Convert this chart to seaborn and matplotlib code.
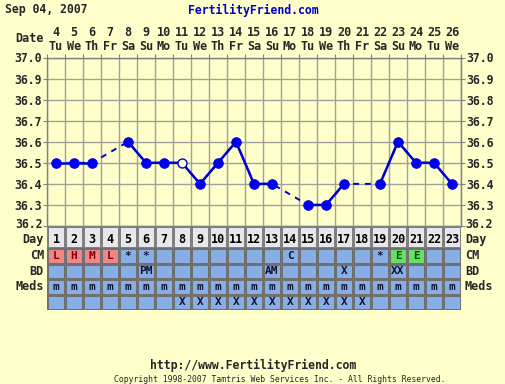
import numpy as np
import pandas as pd
import matplotlib
matplotlib.use('Agg')
import matplotlib.pyplot as plt
from matplotlib.colors import ListedColormap
from matplotlib.transforms import blended_transform_factory
import seaborn as sns

# data
days = list(range(1, 24))
dates = list(range(4, 27))
weekdays = ['Tu', 'We', 'Th', 'Fr', 'Sa', 'Su', 'Mo'] * 3 + ['Tu', 'We']
temps = [36.5, 36.5, 36.5, np.nan, 36.6, 36.5, 36.5, 36.5, 36.4, 36.5, 36.6, 36.4,
         36.4, np.nan, 36.3, 36.3, 36.4, np.nan, 36.4, 36.6, 36.5, 36.5, 36.4]
discarded = [8]
cm = ['L', 'H', 'M', 'L', '*', '*', '', '', '', '', '', '', '', 'C', '', '', '', '', '*', 'E', 'E', '', '']
bd = ['', '', '', '', '', 'PM', '', '', '', '', '', '', 'AM', '', '', '', 'X', '', '', 'XX', '', '', '']
meds = ['m'] * 23
extra = [''] * 7 + ['X'] * 11 + [''] * 5
row_labels = ['CM', 'BD', 'Meds', '']
temp_ticks = [36.2, 36.3, 36.4, 36.5, 36.6, 36.7, 36.8, 36.9, 37.0]

BG = '#FFFFCC'
BLUE = '#0000EE'
LINE = '#0000CC'

sns.set_style('white')
plt.rcParams['font.family'] = ['DejaVu Sans Mono']
plt.rcParams['font.weight'] = 'bold'

W, H = 506, 384
fig = plt.figure(figsize=(W / 100, H / 100), dpi=100, facecolor=BG)

def fx(px):
    return px / W

def fy(py):
    return 1 - py / H

L, R = 47, 461
T, B = 57.5, 226
ax = fig.add_axes([fx(L), fy(B), fx(R - L), (B - T) / H])
ax.set_facecolor(BG)

df = pd.DataFrame({'day': days, 'temp': temps})
valid = df.dropna().copy()
valid['run'] = (valid['day'].diff() != 1).cumsum()

# dashed line across gaps, solid over consecutive days
sns.lineplot(data=valid, x='day', y='temp', estimator=None, color=LINE,
             lw=1.4, linestyle=(0, (3, 3)), ax=ax, zorder=2)
sns.lineplot(data=valid, x='day', y='temp', units='run', estimator=None,
             color=LINE, lw=1.8, ax=ax, zorder=3)
kept = valid[~valid['day'].isin(discarded)]
disc = valid[valid['day'].isin(discarded)]
sns.scatterplot(data=kept, x='day', y='temp', s=50, color=BLUE,
                edgecolor=BLUE, linewidth=0.5, ax=ax, zorder=4)
sns.scatterplot(data=disc, x='day', y='temp', s=42, color=BG,
                edgecolor=LINE, linewidth=1, ax=ax, zorder=4)

ax.set_xlim(0.5, 23.5)
ax.set_ylim(36.2, 37.0)
ax.set_xticks(np.arange(0.5, 24, 1))
ax.set_yticks(temp_ticks)
# the bottom tick label is drawn separately, slightly raised
ax.set_yticklabels([''] + ['%.1f' % v for v in temp_ticks[1:]])
ax.grid(True, color='#A0A0A0', lw=1)
ax.set_axisbelow(True)
ax.tick_params(axis='x', top=True, bottom=False, labelbottom=False,
               length=3, color='#808080', direction='out')
ax.tick_params(axis='y', left=True, right=True, labelleft=True, labelright=True,
               length=3, color='#808080', direction='out', pad=1, labelsize=8.3)
for s in ax.spines.values():
    s.set_color('#808080')
    s.set_linewidth(1)
ax.set_xlabel('')
ax.set_ylabel('')
fig.text(fx(43), fy(224), '%.1f' % temp_ticks[0], ha='right', va='center', fontsize=8.3)
fig.text(fx(465), fy(224), '%.1f' % temp_ticks[0], ha='left', va='center', fontsize=8.3)

# date header
tr = blended_transform_factory(ax.transData, fig.transFigure)
for d, dt, wd in zip(days, dates, weekdays):
    ax.text(d, fy(32), str(dt), transform=tr, ha='center', va='center', fontsize=8.5)
    ax.text(d, fy(46), wd, transform=tr, ha='center', va='center', fontsize=8.5)
fig.text(fx(44), fy(39), 'Date', ha='right', va='center', fontsize=8.5)
fig.text(fx(5), fy(10), 'Sep 04, 2007', ha='left', va='center', fontsize=8.3)
fig.text(fx(253), fy(10), 'FertilityFriend.com', ha='center', va='center',
         fontsize=8.3, color='#0000CC')

# Day row
DT, DB = 226, 248
dax = fig.add_axes([fx(L), fy(DB), fx(R - L), (DB - DT) / H])
sns.heatmap(np.zeros((1, 23)), cmap=ListedColormap(['#E8E8EC']), cbar=False,
            annot=np.array([[str(d) for d in days]]), fmt='', linewidths=1,
            linecolor='#808080', annot_kws={'fontsize': 8.5, 'color': 'black',
                                             'fontweight': 'bold'}, ax=dax)
for t in dax.texts:
    t.set_y(0.6)
dax.set_xticks([])
dax.set_yticks([])
fig.text(fx(44), fy(240), 'Day', ha='right', va='center', fontsize=8.5)
fig.text(fx(465), fy(240), 'Day', ha='left', va='center', fontsize=8.5)

# observation table
TT, TB = 248, 310
tax = fig.add_axes([fx(L), fy(TB), fx(R - L), (TB - TT) / H])
code_map = {'L': 1, 'H': 1, 'M': 1, 'E': 2}
codes = np.zeros((4, 23))
codes[0] = [code_map.get(c, 0) for c in cm]
labels = np.array([cm, bd, meds, extra])
sns.heatmap(codes, cmap=ListedColormap(['#88AEE6', '#EE8888', '#66E066']),
            vmin=0, vmax=2, cbar=False, annot=labels, fmt='', linewidths=1,
            linecolor='#707070', annot_kws={'fontsize': 8, 'fontweight': 'bold'},
            ax=tax)
for t in tax.texts:
    txt = t.get_text()
    if txt in ('L', 'H', 'M'):
        t.set_color('#800000')
    elif txt == 'E':
        t.set_color('#005000')
    else:
        t.set_color('#101030')
tax.set_xticks([])
tax.set_yticks([])
row_h = (TB - TT) / 4
for i, lab in enumerate(row_labels):
    yc = TT + row_h * (i + 0.5)
    fig.text(fx(44), fy(yc), lab, ha='right', va='center', fontsize=8.5)
    fig.text(fx(465), fy(yc), lab, ha='left', va='center', fontsize=8.5)

# footer
fig.text(fx(253), fy(365), 'http://www.FertilityFriend.com', ha='center',
         va='center', fontsize=8.3)
fig.text(fx(280), fy(379), 'Copyright 1998-2007 Tamtris Web Services Inc. - All Rights Reserved.',
         ha='center', va='center', fontsize=5.9, fontweight='normal')

fig.savefig('out.png', dpi=100, facecolor=BG)
